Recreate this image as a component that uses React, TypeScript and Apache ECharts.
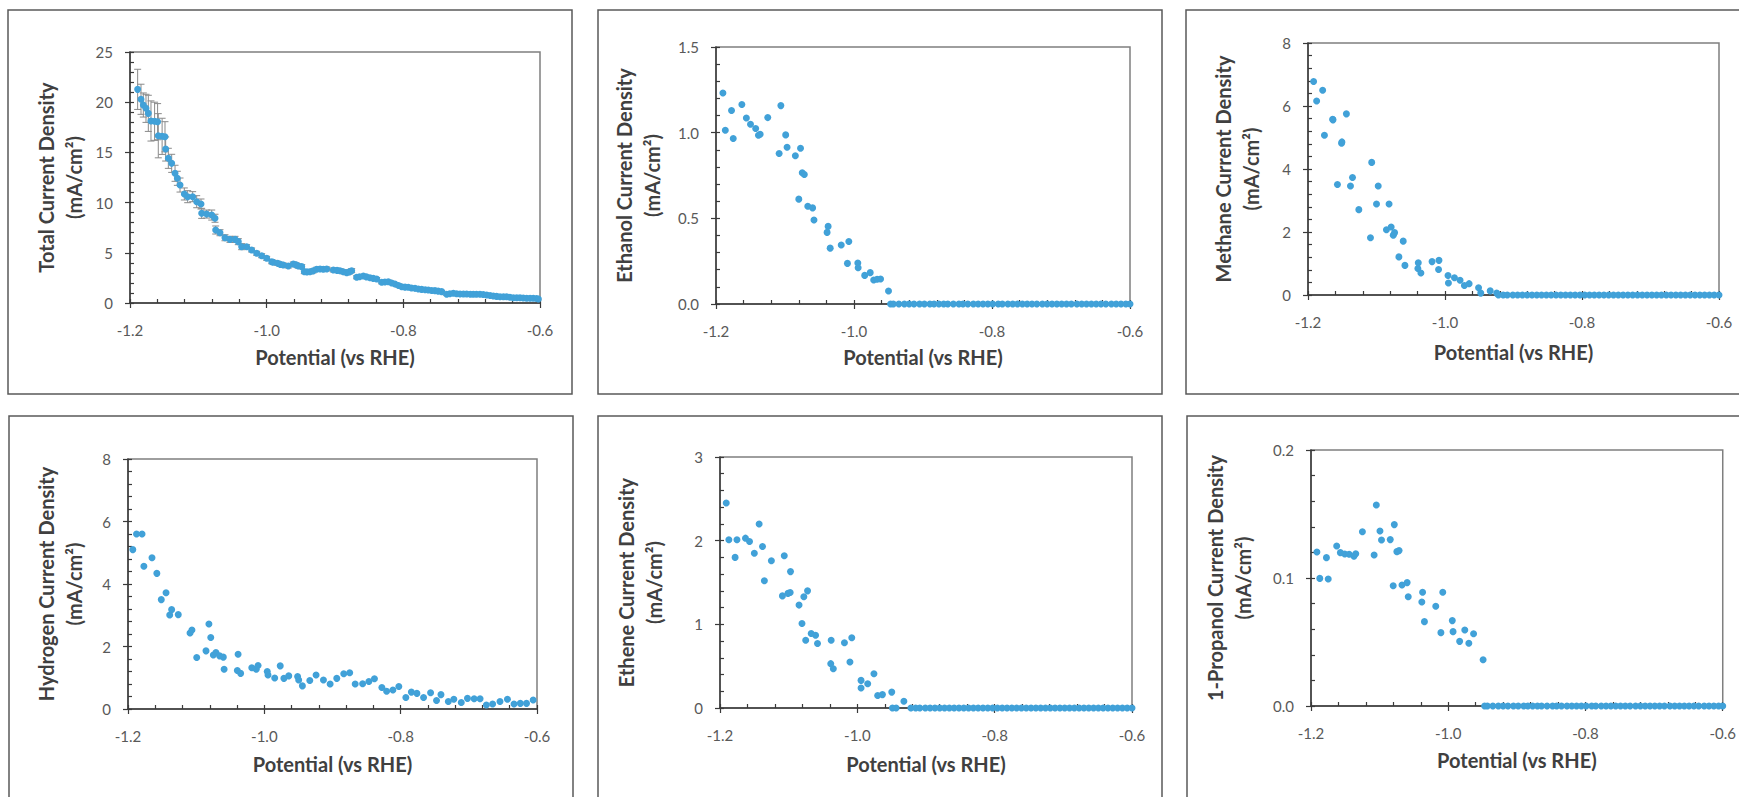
import React, { useEffect, useRef } from "react";
import * as echarts from "echarts";

// ---------- DATA ----------
const xTicks = { min: -1.2, max: -0.6, step: 0.2 };

// Total current density: potential, value, error
const totalX = [
  -1.1888, -1.1839, -1.1805, -1.1766, -1.1732, -1.1693, -1.164, -1.1596, -1.1586, -1.153,
  -1.1488, -1.1478, -1.1439, -1.139, -1.1341, -1.1307, -1.1268, -1.1205, -1.1156, -1.1083,
  -1.1024, -1.0961, -1.0951, -1.0878, -1.0804, -1.0756, -1.0746, -1.0683, -1.061, -1.0537,
  -1.0463, -1.0415, -1.0366, -1.0293, -1.022, -1.0146, -1.0073, -1.0, -0.9926, -0.9905,
  -0.9839, -0.98, -0.9756, -0.9683, -0.961, -0.957, -0.9537, -0.9487, -0.9449, -0.941,
  -0.9366, -0.932, -0.9268, -0.9219, -0.9171, -0.9121, -0.9024, -0.897, -0.8927, -0.888,
  -0.8829, -0.879, -0.8756, -0.8683, -0.864, -0.8585, -0.854, -0.8488, -0.844, -0.839,
  -0.8317, -0.827, -0.822, -0.817, -0.8122, -0.807, -0.8024, -0.7975, -0.7927, -0.788,
  -0.7829, -0.778, -0.7732, -0.768, -0.7634, -0.7585, -0.7537, -0.749, -0.7439, -0.7366,
  -0.732, -0.7268, -0.722, -0.717, -0.712, -0.7073, -0.702, -0.6976, -0.693, -0.6878,
  -0.683, -0.678, -0.673, -0.6683, -0.6635, -0.6585, -0.6535, -0.6488, -0.644, -0.639,
  -0.634, -0.6293, -0.6245, -0.6195, -0.6145, -0.6098, -0.605, -0.6024,
];
const totalY = [
  21.28, 20.29, 19.72, 19.39, 18.89, 18.13, 18.1, 18.06, 16.66, 16.6,
  16.56, 15.34, 14.41, 13.91, 12.92, 12.42, 11.75, 10.86, 10.59, 10.59,
  10.09, 9.86, 8.93, 8.86, 8.76, 8.44, 7.27, 7.0, 6.5, 6.34,
  6.34, 6.11, 5.61, 5.61, 5.28, 4.95, 4.71, 4.45, 4.11, 4.05,
  3.95, 3.85, 3.78, 3.69, 3.88, 3.8, 3.69, 3.62, 3.12, 3.1,
  3.12, 3.2, 3.36, 3.39, 3.36, 3.39, 3.29, 3.25, 3.22, 3.12,
  3.02, 3.1, 3.22, 2.56, 2.62, 2.69, 2.6, 2.52, 2.45, 2.39,
  2.06, 2.1, 2.12, 2.0, 1.89, 1.75, 1.62, 1.58, 1.56, 1.5,
  1.46, 1.4, 1.36, 1.32, 1.29, 1.25, 1.23, 1.18, 1.13, 0.87,
  0.92, 0.97, 0.93, 0.9, 0.9, 0.9, 0.88, 0.87, 0.87, 0.87,
  0.84, 0.8, 0.75, 0.7, 0.66, 0.63, 0.63, 0.63, 0.58, 0.53,
  0.53, 0.53, 0.5, 0.47, 0.47, 0.47, 0.44, 0.4,
];
const totalErr = [
  2.0, 1.5, 1.2, 1.4, 1.8, 2.0, 1.9, 1.8, 2.2, 1.8,
  1.5, 1.2, 1.0, 0.9, 0.8, 0.7, 0.7, 0.6, 0.6, 0.5,
  0.6, 0.5, 0.5, 0.4, 0.5, 0.4, 0.4, 0.3, 0.3, 0.3,
  0.3, 0.3, 0.3, 0.2, 0.2, 0.2, 0.2, 0.2, 0.2, 0.2,
  0.2, 0.2, 0.2, 0.2, 0.2, 0.2, 0.2, 0.2, 0.2, 0.2,
  0.2, 0.2, 0.2, 0.2, 0.2, 0.2, 0.2, 0.2, 0.2, 0.2,
  0.2, 0.2, 0.2, 0.15, 0.15, 0.15, 0.15, 0.15, 0.15, 0.15,
  0.15, 0.15, 0.15, 0.15, 0.15, 0.15, 0.1, 0.1, 0.1, 0.1,
  0.1, 0.1, 0.1, 0.1, 0.1, 0.1, 0.1, 0.1, 0.1, 0.1,
  0.1, 0.1, 0.1, 0.1, 0.1, 0.1, 0.1, 0.1, 0.1, 0.1,
  0.1, 0.1, 0.1, 0.1, 0.1, 0.1, 0.1, 0.1, 0.1, 0.1,
  0.1, 0.1, 0.1, 0.1, 0.1, 0.1, 0.1, 0.1,
];

const ethanolPoints: [number, number][] = [
  [-1.19, 1.232], [-1.1865, 1.014], [-1.1775, 1.129], [-1.175, 0.966], [-1.1625, 1.164],
  [-1.156, 1.086], [-1.15, 1.049], [-1.1425, 1.024], [-1.1385, 0.985], [-1.136, 0.991],
  [-1.125, 1.088], [-1.1085, 0.878], [-1.106, 1.158], [-1.099, 0.987], [-1.097, 0.915],
  [-1.085, 0.865], [-1.0775, 0.909], [-1.075, 0.766], [-1.072, 0.756], [-1.08, 0.612],
  [-1.067, 0.571], [-1.06, 0.561], [-1.058, 0.49], [-1.0375, 0.453], [-1.039, 0.418],
  [-1.0345, 0.326], [-1.0185, 0.344], [-1.0075, 0.365], [-1.0095, 0.237], [-0.9945, 0.239],
  [-0.994, 0.212], [-0.9845, 0.167], [-0.9765, 0.183], [-0.9715, 0.14], [-0.9665, 0.144],
  [-0.9615, 0.146], [-0.95, 0.076],
];

const methanePoints: [number, number][] = [
  [-1.1918, 6.78], [-1.1874, 6.16], [-1.1786, 6.5], [-1.176, 5.07], [-1.164, 5.58],
  [-1.1635, 5.56], [-1.157, 3.51], [-1.151, 4.82], [-1.1505, 4.86], [-1.144, 5.75],
  [-1.138, 3.46], [-1.135, 3.73], [-1.1258, 2.71], [-1.1088, 1.82], [-1.107, 4.21],
  [-1.1, 2.89], [-1.0975, 3.46], [-1.0855, 2.07], [-1.0817, 2.89], [-1.0786, 2.16],
  [-1.0755, 1.9], [-1.0736, 1.98], [-1.0673, 1.21], [-1.061, 1.71], [-1.0585, 0.94],
  [-1.0396, 0.84], [-1.039, 1.02], [-1.0352, 0.7], [-1.0189, 1.06], [-1.0094, 0.81],
  [-1.0088, 1.1], [-0.9956, 0.62], [-0.995, 0.38], [-0.9862, 0.55], [-0.978, 0.47],
  [-0.9717, 0.3], [-0.9648, 0.36], [-0.951, 0.23], [-0.9478, 0.06], [-0.934, 0.13],
  [-0.9245, 0.06],
];

const hydrogenPoints: [number, number][] = [
  [-1.193, 5.1], [-1.1875, 5.6], [-1.1794, 5.6], [-1.1767, 4.57], [-1.1648, 4.84],
  [-1.1577, 4.34], [-1.1512, 3.5], [-1.1442, 3.72], [-1.1388, 3.01], [-1.136, 3.18],
  [-1.1263, 3.02], [-1.109, 2.43], [-1.1062, 2.53], [-1.0992, 1.65], [-1.0856, 1.86],
  [-1.0813, 2.72], [-1.0786, 2.29], [-1.0748, 1.73], [-1.071, 1.81], [-1.0656, 1.7],
  [-1.0602, 1.66], [-1.059, 1.27], [-1.0385, 1.75], [-1.0396, 1.23], [-1.0348, 1.14],
  [-1.0184, 1.32], [-1.0119, 1.27], [-1.0092, 1.39], [-0.9957, 1.2], [-0.9946, 1.09],
  [-0.9848, 0.99], [-0.9767, 1.38], [-0.9713, 0.98], [-0.9642, 1.06], [-0.9512, 1.04],
  [-0.9496, 0.93], [-0.9442, 0.74], [-0.9333, 0.91], [-0.9241, 1.09], [-0.9133, 0.93],
  [-0.9035, 0.8], [-0.8938, 0.98], [-0.8835, 1.13], [-0.8748, 1.16], [-0.8667, 0.8],
  [-0.8558, 0.81], [-0.8466, 0.88], [-0.8385, 0.97], [-0.8276, 0.69], [-0.8206, 0.57],
  [-0.8114, 0.61], [-0.8027, 0.72], [-0.7924, 0.37], [-0.7843, 0.54], [-0.7762, 0.5],
  [-0.7664, 0.37], [-0.7561, 0.52], [-0.7474, 0.27], [-0.7409, 0.46], [-0.7301, 0.24],
  [-0.722, 0.31], [-0.7111, 0.21], [-0.702, 0.34], [-0.6922, 0.33], [-0.6835, 0.33],
  [-0.6743, 0.13], [-0.6651, 0.16], [-0.6543, 0.24], [-0.6434, 0.31], [-0.6337, 0.16],
  [-0.6245, 0.18], [-0.6154, 0.18], [-0.6056, 0.29],
];

const ethenePoints: [number, number][] = [
  [-1.1909, 2.45], [-1.1871, 2.01], [-1.1753, 2.01], [-1.178, 1.8], [-1.1629, 2.03],
  [-1.157, 1.99], [-1.15, 1.85], [-1.143, 2.2], [-1.1381, 1.93], [-1.1354, 1.52],
  [-1.1252, 1.76], [-1.1064, 1.82], [-1.1091, 1.34], [-1.101, 1.37], [-1.0978, 1.38],
  [-1.0973, 1.63], [-1.0849, 1.23], [-1.0806, 1.01], [-1.0779, 1.33], [-1.0725, 1.4],
  [-1.0752, 0.81], [-1.0672, 0.89], [-1.0608, 0.87], [-1.058, 0.77], [-1.0381, 0.81],
  [-1.0387, 0.53], [-1.035, 0.47], [-1.0188, 0.78], [-1.0081, 0.84], [-1.0108, 0.55],
  [-0.9946, 0.33], [-0.9946, 0.24], [-0.9849, 0.29], [-0.9758, 0.41], [-0.9704, 0.15],
  [-0.9634, 0.16], [-0.9499, 0.19], [-0.9489, 0], [-0.9435, 0], [-0.9322, 0.08],
];

const propanolPoints: [number, number][] = [
  [-1.1914, 0.1203], [-1.1872, 0.0997], [-1.1775, 0.1159], [-1.1749, 0.0992], [-1.1626, 0.125],
  [-1.1572, 0.1198], [-1.1508, 0.1188], [-1.1444, 0.1185], [-1.1374, 0.117], [-1.1348, 0.119],
  [-1.1251, 0.1362], [-1.108, 0.118], [-1.1048, 0.157], [-1.0995, 0.1367], [-1.0973, 0.1297],
  [-1.0845, 0.13], [-1.0802, 0.094], [-1.0786, 0.1417], [-1.0749, 0.1206], [-1.0717, 0.1214],
  [-1.0674, 0.0945], [-1.0599, 0.0964], [-1.0583, 0.0854], [-1.0385, 0.0813], [-1.0374, 0.0888],
  [-1.0347, 0.0659], [-1.0182, 0.0779], [-1.0107, 0.0573], [-1.008, 0.0888], [-0.9941, 0.0667],
  [-0.993, 0.0581], [-0.9834, 0.0505], [-0.9759, 0.0594], [-0.97, 0.049], [-0.9631, 0.0565],
  [-0.9492, 0.0362],
];

// potentials where the product was measured as zero
const zeroTailEarly = [
  -0.947, -0.943, -0.935, -0.927, -0.92, -0.913, -0.905, -0.898, -0.89, -0.884,
  -0.877, -0.87, -0.864, -0.856, -0.848, -0.842, -0.835, -0.827, -0.82, -0.813,
  -0.806, -0.799, -0.791, -0.785, -0.777, -0.77, -0.763, -0.756, -0.749, -0.742,
  -0.735, -0.727, -0.72, -0.713, -0.706, -0.699, -0.692, -0.685, -0.677, -0.67,
  -0.663, -0.656, -0.649, -0.642, -0.635, -0.627, -0.62, -0.613, -0.606, -0.6,
];
const zeroTailLate = [
  -0.922, -0.915, -0.909, -0.901, -0.894, -0.887, -0.88, -0.873, -0.866, -0.859,
  -0.852, -0.845, -0.838, -0.831, -0.824, -0.817, -0.81, -0.803, -0.796, -0.789,
  -0.782, -0.775, -0.768, -0.761, -0.754, -0.747, -0.74, -0.733, -0.726, -0.719,
  -0.712, -0.705, -0.698, -0.691, -0.684, -0.677, -0.67, -0.663, -0.656, -0.649,
  -0.642, -0.635, -0.628, -0.621, -0.614, -0.607, -0.6,
];

const yTitles = [
  "Total Current Density",
  "Ethanol Current Density",
  "Methane Current Density",
  "Hydrogen Current Density",
  "Ethene Current Density",
  "1-Propanol Current Density",
];
const yUnit = "(mA/cm²)";
const xTitle = "Potential (vs RHE)";
const yMaxes = [25, 1.5, 8, 8, 3, 0.2];
const yIntervals = [5, 0.5, 2, 2, 1, 0.1];
const yDecimals = [0, 1, 0, 0, 0, 1];

// ---------- LAYOUT ----------
const boxes = [
  [8, 10], [598, 10], [1186, 10],
  [9, 416], [598, 416], [1187, 416],
];
const BOX_W = 564;
const BOX_H = 384;
const grids = [
  { left: 130, top: 52, width: 410, height: 251 },
  { left: 716, top: 47, width: 414, height: 257 },
  { left: 1308, top: 43, width: 411, height: 252 },
  { left: 128, top: 459, width: 409, height: 250 },
  { left: 720, top: 457, width: 412, height: 251 },
  { left: 1311, top: 450, width: 414, height: 256 },
];
const yNameGaps = [42, 50, 43, 40, 52, 54];
const xNameGaps = [44, 43, 47, 45, 46, 44];

const DOT = "#41a1d8";
const FONT = "Lato, 'Open Sans', sans-serif";

export default function App() {
  const ref = useRef<HTMLDivElement>(null);

  useEffect(() => {
    document.body.style.margin = "0";
    if (!ref.current) return;
    const chart = echarts.init(ref.current, null, { renderer: "svg" });

    const seriesData = [
      totalX.map((x, i) => [x, totalY[i]]),
      [...ethanolPoints, ...zeroTailEarly.map((x) => [x, 0])],
      [...methanePoints, ...zeroTailLate.map((x) => [x, 0])],
      hydrogenPoints,
      [...ethenePoints, ...zeroTailLate.map((x) => [x, 0])],
      [...propanolPoints, ...zeroTailEarly.map((x) => [x, 0])],
    ];

    const xAxes: any[] = [];
    const yAxes: any[] = [];
    grids.forEach((g, i) => {
      const common = {
        gridIndex: i,
        type: "value",
        min: xTicks.min,
        max: xTicks.max,
        interval: xTicks.step,
        splitLine: { show: false },
      };
      xAxes.push({
        ...common,
        position: "bottom",
        name: xTitle,
        nameLocation: "middle",
        nameGap: xNameGaps[i],
        nameTextStyle: { fontFamily: FONT, fontSize: 20, fontWeight: "bold", color: "#404040" },
        axisLine: { show: true, onZero: false, lineStyle: { color: "#3a3a3a", width: 1.5 } },
        axisTick: { show: true, inside: false, length: 5, lineStyle: { color: "#3a3a3a", width: 1.2 } },
        axisLabel: {
          margin: 19,
          fontFamily: FONT,
          fontSize: 15,
          color: "#595959",
          formatter: (v: number) => v.toFixed(1),
        },
      });
      xAxes.push({
        ...common,
        position: "bottom",
        axisLine: { show: false },
        axisLabel: { show: false },
        axisTick: { show: true, inside: true, length: 4, lineStyle: { color: "#3a3a3a", width: 1.2 } },
        minorTick: { show: true, splitNumber: 5, length: 4, lineStyle: { color: "#3a3a3a", width: 1.2 } },
      });
      const ycommon = {
        gridIndex: i,
        type: "value",
        min: 0,
        max: yMaxes[i],
        interval: yIntervals[i],
        splitLine: { show: false },
      };
      yAxes.push({
        ...ycommon,
        position: "left",
        name: yTitles[i] + "\n" + yUnit,
        nameLocation: "middle",
        nameRotate: 90,
        nameGap: yNameGaps[i],
        nameTextStyle: { fontFamily: FONT, fontSize: 20, fontWeight: "bold", color: "#404040", lineHeight: 28 },
        axisLine: { show: true, onZero: false, lineStyle: { color: "#3a3a3a", width: 1.5 } },
        axisTick: { show: true, inside: false, length: 5, lineStyle: { color: "#3a3a3a", width: 1.2 } },
        axisLabel: {
          margin: 17,
          fontFamily: FONT,
          fontSize: 15,
          color: "#595959",
          formatter: (v: number) => v.toFixed(yDecimals[i]),
        },
      });
      yAxes.push({
        ...ycommon,
        position: "left",
        axisLine: { show: false },
        axisLabel: { show: false },
        axisTick: { show: true, inside: true, length: 4, lineStyle: { color: "#3a3a3a", width: 1.2 } },
        minorTick: { show: true, splitNumber: 5, length: 4, lineStyle: { color: "#3a3a3a", width: 1.2 } },
      });
    });

    const series: any[] = [
      {
        type: "custom",
        xAxisIndex: 0,
        yAxisIndex: 0,
        z: 1,
        clip: true,
        data: totalX.map((x, i) => [x, totalY[i], totalErr[i]]),
        renderItem: (params: any, api: any) => {
          const x = api.value(0);
          const y = api.value(1);
          const e = api.value(2);
          const top = api.coord([x, y + e]);
          const bot = api.coord([x, y - e]);
          const cap = 3.5;
          const style = { stroke: "#8a8a8a", lineWidth: 1 };
          return {
            type: "group",
            children: [
              { type: "line", shape: { x1: top[0], y1: top[1], x2: bot[0], y2: bot[1] }, style },
              { type: "line", shape: { x1: top[0] - cap, y1: top[1], x2: top[0] + cap, y2: top[1] }, style },
              { type: "line", shape: { x1: bot[0] - cap, y1: bot[1], x2: bot[0] + cap, y2: bot[1] }, style },
            ],
          };
        },
      },
    ];
    seriesData.forEach((d, i) => {
      series.push({
        type: "scatter",
        xAxisIndex: 2 * i,
        yAxisIndex: 2 * i,
        z: 3,
        symbol: "circle",
        symbolSize: 7,
        itemStyle: { color: DOT, opacity: 1 },
        data: d,
      });
    });

    const graphic = boxes.map(([x, y]) => ({
      type: "rect",
      silent: true,
      shape: { x, y, width: BOX_W, height: BOX_H },
      style: { fill: "none", stroke: "#595959", lineWidth: 1.5 },
      z: 0,
    }));

    chart.setOption({
      animation: false,
      backgroundColor: "#ffffff",
      textStyle: { fontFamily: FONT },
      grid: grids.map((g) => ({
        ...g,
        show: true,
        borderColor: "#7f7f7f",
        borderWidth: 1.5,
        backgroundColor: "transparent",
        containLabel: false,
      })),
      xAxis: xAxes,
      yAxis: yAxes,
      series,
      graphic,
    });

    return () => chart.dispose();
  }, []);

  return <div ref={ref} style={{ width: 1739, height: 797 }} />;
}
